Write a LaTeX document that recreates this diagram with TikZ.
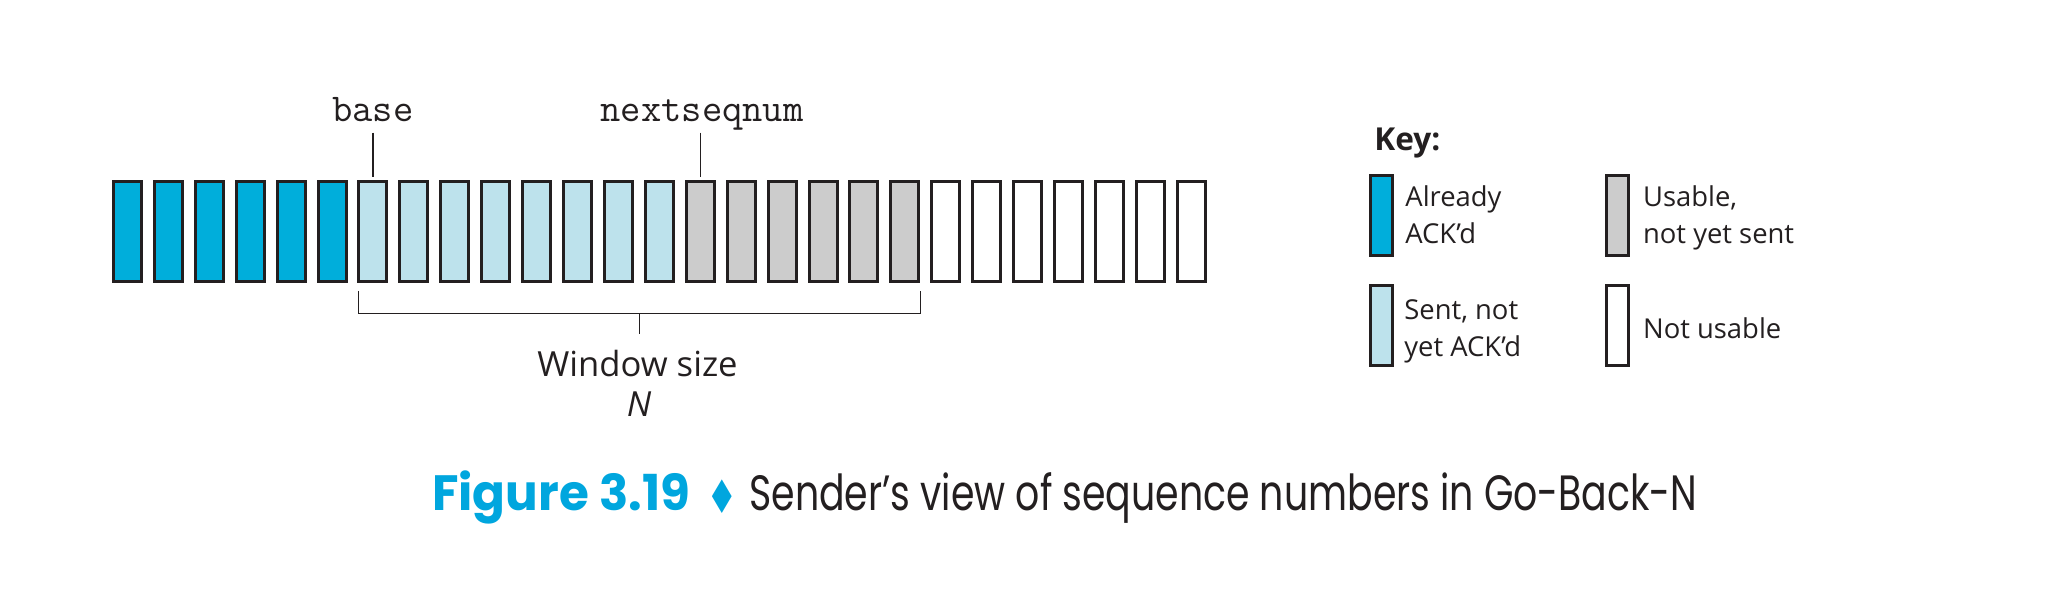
\documentclass[tikz,border=0pt]{standalone}
\usepackage{fontspec}
\setmainfont{Open Sans}
\newfontfamily\capfont{Poppins}
\newfontfamily\symfont{DejaVu Sans}
\definecolor{ackd}{RGB}{0,174,219}
\definecolor{sentc}{RGB}{189,226,236}
\definecolor{usable}{RGB}{204,204,204}
\definecolor{edge}{RGB}{35,31,32}
\definecolor{capblue}{RGB}{0,166,222}
\definecolor{ink}{RGB}{35,31,32}
\begin{document}
\begin{tikzpicture}[x=0.5pt,y=-0.5pt,
  seqbox/.style={draw=edge,line width=1.5pt,minimum width=14pt,minimum height=50.3pt,inner sep=0pt,outer sep=0pt},
  keybox/.style={draw=edge,line width=1.5pt,minimum width=10.8pt,minimum height=39.8pt,inner sep=0pt,outer sep=0pt},
  thinline/.style={draw=edge,line width=0.7pt},
  lbl/.style={text=ink,inner sep=0pt,font=\fontsize{17.3pt}{20pt}\selectfont},
  codelbl/.style={text=ink,inner sep=0pt,font=\ttfamily\fontsize{19.7pt}{22pt}\selectfont},
  keytxt/.style={text=ink,inner sep=0pt,font=\fontsize{13.7pt}{18.5pt}\selectfont,align=left,anchor=base west}
]
\useasboundingbox (0,0) rectangle (2058,592);
% sequence number boxes
\foreach \i in {0,...,26}{
  \ifnum\i<6 \def\fc{ackd}\else\ifnum\i<14 \def\fc{sentc}\else\ifnum\i<20 \def\fc{usable}\else\def\fc{white}\fi\fi\fi
  \node[seqbox,fill=\fc] (b\i) at ({127.4+40.92*\i},231.5) {};
}
% pointers
\node[codelbl,anchor=base] (baselbl) at (372.9,122) {base};
\coordinate (basetop) at (372.9,132.7);
\coordinate (basebot) at (372.9,177);
\draw[thinline] (basetop) -- (basebot);
\node[codelbl,anchor=base] (nextlbl) at (702,122) {nextseqnum};
\coordinate (nexttop) at (700.3,132.7);
\coordinate (nextbot) at (700.3,177);
\draw[thinline] (nexttop) -- (nextbot);
% window bracket
\coordinate (wl) at (358.3,291);
\coordinate (wr) at (920.2,291);
\coordinate (wm) at (639.2,313.7);
\draw[thinline] (wl) -- (wl |- wm) -- (wr |- wm) -- (wr);
\coordinate (wt) at (639.2,334);
\draw[thinline] (wm) -- (wt);
\node[lbl,anchor=base] (wlbl) at (637.5,376.7) {Window size};
\node[lbl,anchor=base] (nlbl) at (639,417) {\itshape N};
% key
\node[text=ink,inner sep=0pt,anchor=base west,font=\bfseries\fontsize{15.8pt}{18.5pt}\selectfont] (key) at (1374,151) {Key:};
\node[keybox,fill=ackd] (k1) at (1381.7,215.3) {};
\node[keybox,fill=sentc] (k2) at (1381.7,325.3) {};
\node[keybox,fill=usable] (k3) at (1617.2,215.3) {};
\node[keybox,fill=white] (k4) at (1617.2,325.3) {};
\node[keytxt] (t1) at (1405,244) {Already\\ACK’d};
\node[keytxt] (t2) at (1404,356.7) {Sent, not\\yet ACK’d};
\node[keytxt] (t3) at (1642.7,244) {Usable,\\not yet sent};
\node[keytxt] (t4) at (1642.7,338.3) {Not usable};
% caption
\node[anchor=base west,inner sep=0pt,text=capblue,font=\capfont\bfseries\fontsize{24.8pt}{28pt}\selectfont] (fig) at (431.7,510.7) {\resizebox{129pt}{\height}{Figure 3.19}};
\node[inner sep=0pt,text=capblue,font=\symfont\fontsize{22pt}{24pt}\selectfont] (dia) at (722,497) {\scalebox{0.8}[1.05]{♦}};
\node[anchor=base west,inner sep=0pt,text=ink,font=\capfont\fontsize{24.8pt}{28pt}\selectfont] (cap) at (749,510.7) {\resizebox{474pt}{\height}{Sender’s view of sequence numbers in Go-Back-N}};
\end{tikzpicture}
\end{document}
